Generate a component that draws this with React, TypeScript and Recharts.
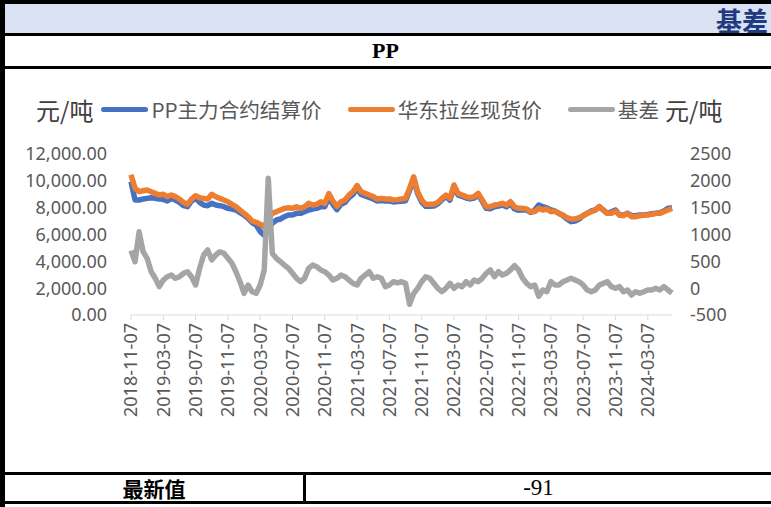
import { LineChart, Line, XAxis, YAxis } from 'recharts';

// semi-monthly samples (7th and 22nd) from 2018-11-07
const futuresPrice = [
  9935, 8570, 8570, 8645, 8695, 8745, 8695, 8645, 8620, 8496,
  8695, 8570, 8397, 8148, 8073, 8496, 8695, 8397, 8198, 8148,
  8323, 8198, 8148, 8073, 7950, 7900, 7825, 7625, 7453, 7205,
  6880, 6708, 6209, 5950, 6450, 6834, 7080, 7155, 7328, 7453,
  7453, 7577, 7577, 7701, 7825, 7900, 7950, 8073, 8073, 8750,
  8250, 7850, 8250, 8380, 8750, 8990, 9450, 8990, 8880, 8760,
  8650, 8500, 8540, 8500, 8500, 8430, 8450, 8480, 8520, 9280,
  10150, 9050, 8420, 8100, 8100, 8120, 8280, 8580, 8850, 8560,
  9560, 8950, 8830, 8720, 8650, 8720, 8960, 8470, 7950, 7920,
  8060, 8120, 8200, 8060, 8300, 7900, 7800, 7840, 7820, 7650,
  7825, 8198, 8073, 7990, 7825, 7750, 7577, 7400, 7155, 6958,
  7006, 7155, 7400, 7577, 7750, 7825, 8073, 7825, 7577, 7701,
  7825, 7453, 7453, 7577, 7400, 7400, 7453, 7453, 7500, 7550,
  7577, 7620, 7750, 7950, 7990,
];

const spotPrice = [
  10450, 9440, 9190, 9265, 9315, 9190, 9067, 8944, 8994, 8820,
  8944, 8820, 8645, 8397, 8248, 8645, 8894, 8745, 8695, 8645,
  8994, 8820, 8695, 8570, 8446, 8248, 8073, 7825, 7577, 7328,
  7006, 6909, 6760, 6550, 7200, 7577, 7701, 7825, 7950, 8000,
  7950, 8073, 7950, 8073, 8323, 8198, 8248, 8446, 8323, 9050,
  8500, 8100, 8446, 8570, 8944, 9190, 9650, 9190, 9067, 8944,
  8820, 8645, 8695, 8645, 8645, 8570, 8600, 8645, 8695, 9440,
  10300, 9190, 8570, 8248, 8248, 8248, 8397, 8695, 8944, 8695,
  9690, 9067, 8944, 8820, 8745, 8820, 9067, 8570, 8073, 8073,
  8198, 8248, 8323, 8198, 8446, 8073, 7950, 7950, 7900, 7701,
  7701, 7950, 7825, 7900, 7701, 7750, 7577, 7453, 7254, 7155,
  7155, 7254, 7400, 7577, 7701, 7825, 8073, 7825, 7577, 7577,
  7750, 7453, 7400, 7577, 7328, 7328, 7400, 7453, 7453, 7500,
  7577, 7577, 7701, 7825, 7950,
];

const basis = [
  700, 493, 1050, 679, 556, 307, 184, 28, 152, 214,
  245, 184, 214, 277, 307, 214, 59, 370, 618, 711,
  525, 618, 679, 649, 556, 463, 307, 121, -96, 59,
  -66, -96, 59, 340, 2050, 650, 556, 493, 431, 370,
  277, 184, 121, 184, 370, 431, 400, 339, 307, 245,
  152, 184, 245, 214, 152, 90, 59, 184, 245, 307,
  184, 214, 184, 28, 59, 121, 100, 121, 90, -300,
  -100, -3, 121, 214, 184, 90, -3, -66, -3, 90,
  -3, 59, 28, 121, 59, 152, 121, 184, 277, 339,
  214, 307, 245, 277, 339, 420, 339, 184, 90, 28,
  59, -150, -34, -66, 121, 59, 59, 121, 152, 184,
  152, 121, 59, -34, -66, -34, 59, 90, 121, 28,
  -3, 28, -66, -34, -127, -66, -96, -66, -34, -34,
  -3, -34, 28, -34, -91,
];

const tickDates = [
  '2018-11-07', '2019-03-07', '2019-07-07', '2019-11-07', '2020-03-07', '2020-07-07',
  '2020-11-07', '2021-03-07', '2021-07-07', '2021-11-07', '2022-03-07', '2022-07-07',
  '2022-11-07', '2023-03-07', '2023-07-07', '2023-11-07', '2024-03-07',
];

const leftTicks = [0, 2000, 4000, 6000, 8000, 10000, 12000];
const rightTicks = [-500, 0, 500, 1000, 1500, 2000, 2500];

const pad = (n: number) => (n < 10 ? '0' + n : '' + n);

const data = basis.map((b, i) => {
  const m = 10 + Math.floor(i / 2); // months since Jan 2018, 0-based
  const year = 2018 + Math.floor(m / 12);
  const month = (m % 12) + 1;
  return {
    date: `${year}-${pad(month)}-${i % 2 === 0 ? '07' : '22'}`,
    futures: futuresPrice[i],
    spot: spotPrice[i],
    basis: b,
  };
});

const tickFont = { fontSize: 18, fill: '#595959', fontFamily: 'Noto Sans' };

const RotatedTick = ({ x, y, payload }: any) => (
  <g transform={`translate(${x},${y})`}>
    <text transform="rotate(-90)" textAnchor="end" dy="0.36em" {...tickFont}>
      {payload.value}
    </text>
  </g>
);

const cjk = '"Noto Sans CJK SC", sans-serif';

const legendItems = [
  { label: 'PP主力合约结算价', color: '#4472C4' },
  { label: '华东拉丝现货价', color: '#ED7D31' },
  { label: '基差', color: '#A5A5A5' },
];

export default function App() {
  return (
    <div style={{ position: 'absolute', left: 0, top: 0, width: 771, height: 507, background: '#fff', overflow: 'hidden' }}>
      <div style={{ position: 'absolute', left: 0, top: 0, width: 771, height: 4, background: '#000' }} />
      <div style={{ position: 'absolute', left: 0, top: 4, width: 771, height: 29, background: '#D9E1F2' }} />
      <div style={{ position: 'absolute', left: 716, top: 5, fontFamily: cjk, fontWeight: 700, fontSize: 26, lineHeight: '30px', color: '#1F3A80', whiteSpace: 'nowrap' }}>
        基差
      </div>
      <div style={{ position: 'absolute', left: 0, top: 33, width: 771, height: 3, background: '#000' }} />
      <div style={{ position: 'absolute', left: 0, top: 36, width: 771, height: 30, display: 'flex', alignItems: 'center', justifyContent: 'center', fontFamily: '"Liberation Serif", serif', fontWeight: 700, fontSize: 22, color: '#000' }}>
        PP
      </div>
      <div style={{ position: 'absolute', left: 0, top: 66, width: 771, height: 3, background: '#000' }} />

      <div style={{ position: 'absolute', left: 0, top: 69 }}>
        <LineChart width={771} height={403} data={data} margin={{ top: 85, right: 0, bottom: 0, left: 0 }}>
          <XAxis
            dataKey="date"
            ticks={tickDates}
            interval={0}
            tick={<RotatedTick />}
            tickSize={5}
            tickMargin={3}
            height={157}
            axisLine={{ stroke: '#D9D9D9' }}
            tickLine={{ stroke: '#D9D9D9' }}
          />
          <YAxis
            yAxisId="left"
            domain={[0, 12000]}
            ticks={leftTicks}
            width={131}
            axisLine={false}
            tickLine={false}
            tickSize={0}
            tickMargin={24}
            tick={tickFont}
            tickFormatter={(v: number) => v.toLocaleString('en-US', { minimumFractionDigits: 2, maximumFractionDigits: 2 })}
          />
          <YAxis
            yAxisId="right"
            orientation="right"
            domain={[-500, 2500]}
            ticks={rightTicks}
            width={99}
            axisLine={false}
            tickLine={false}
            tickSize={0}
            tickMargin={18}
            tick={{ ...tickFont, textAnchor: 'start' }}
          />
          <Line yAxisId="left" type="linear" dataKey="futures" stroke="#4472C4" strokeWidth={5.5} strokeLinejoin="round" dot={false} isAnimationActive={false} />
          <Line yAxisId="left" type="linear" dataKey="spot" stroke="#ED7D31" strokeWidth={5.5} strokeLinejoin="round" dot={false} isAnimationActive={false} />
          <Line yAxisId="right" type="linear" dataKey="basis" stroke="#A5A5A5" strokeWidth={5.5} strokeLinejoin="round" dot={false} isAnimationActive={false} />
        </LineChart>
      </div>

      {/* legend row with axis units */}
      <div style={{ position: 'absolute', left: 36, top: 94, height: 30, display: 'flex', alignItems: 'center', fontFamily: cjk, whiteSpace: 'nowrap' }}>
        <span style={{ fontSize: 24, color: '#404040', marginRight: 8 }}>元/吨</span>
        {legendItems.map((item, idx) => (
          <span key={item.label} style={{ display: 'flex', alignItems: 'center', marginRight: idx < 2 ? 26 : 6 }}>
            <span style={{ display: 'inline-block', width: 47, height: 5, borderRadius: 3, background: item.color, marginRight: 3 }} />
            <span style={{ fontSize: 20.6, color: '#595959' }}>{item.label}</span>
          </span>
        ))}
        <span style={{ fontSize: 24, color: '#404040' }}>元/吨</span>
      </div>

      <div style={{ position: 'absolute', left: 0, top: 472, width: 771, height: 3, background: '#000' }} />
      <div style={{ position: 'absolute', left: 5, top: 475, width: 298, height: 26, display: 'flex', alignItems: 'center', justifyContent: 'center', fontFamily: cjk, fontWeight: 700, fontSize: 21, color: '#000' }}>
        最新值
      </div>
      <div style={{ position: 'absolute', left: 303, top: 475, width: 3, height: 26, background: '#000' }} />
      <div style={{ position: 'absolute', left: 306, top: 475, width: 465, height: 26, display: 'flex', alignItems: 'center', justifyContent: 'center', fontFamily: '"Liberation Serif", serif', fontSize: 23, color: '#000' }}>
        -91
      </div>
      <div style={{ position: 'absolute', left: 0, top: 501, width: 771, height: 3, background: '#000' }} />
      <div style={{ position: 'absolute', left: 0, top: 0, width: 5, height: 507, background: '#000' }} />
    </div>
  );
}
